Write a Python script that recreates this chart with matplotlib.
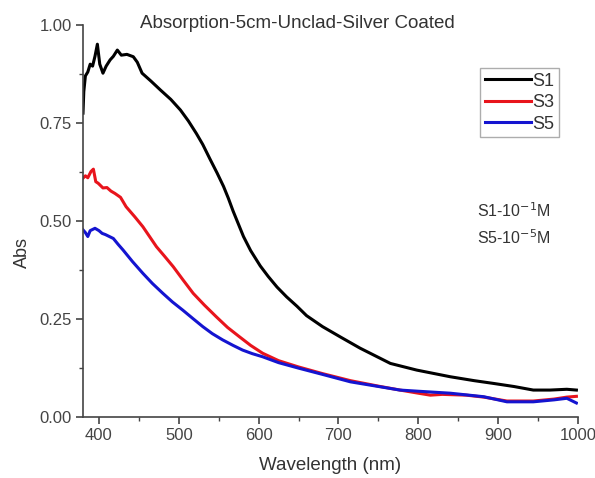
import matplotlib
matplotlib.use("Agg")
import matplotlib.pyplot as plt
from matplotlib.ticker import MultipleLocator

plt.rcParams['font.family'] = ['Liberation Sans', 'DejaVu Sans']

wl_s1 = [380, 381, 383, 386, 389, 392, 395, 398, 401, 405, 409, 414, 418, 423, 428, 435,
         443, 448, 454, 465, 477, 490, 502, 512, 522, 530, 539, 548, 556, 562, 568, 575,
         581, 590, 602, 612, 623, 635, 648, 660, 680, 702, 727, 765, 798, 840, 870, 894,
         920, 944, 965, 986, 998]
abs_s1 = [0.775, 0.83, 0.87, 0.88, 0.90, 0.895, 0.92, 0.951, 0.90, 0.877, 0.895, 0.911, 0.92,
          0.936, 0.923, 0.925, 0.919, 0.905, 0.877, 0.857, 0.834, 0.81, 0.783, 0.755, 0.723,
          0.695, 0.658, 0.622, 0.588, 0.558, 0.525, 0.49, 0.46, 0.424, 0.385, 0.358, 0.331,
          0.306, 0.282, 0.258, 0.23, 0.204, 0.175, 0.136, 0.119, 0.102, 0.092, 0.085, 0.077,
          0.068, 0.068, 0.070, 0.068]

wl_s3 = [380, 383, 386, 390, 393, 396, 399, 405, 410, 415, 420, 427, 434, 445, 455, 464,
         472, 482, 493, 505, 518, 532, 547, 561, 576, 590, 605, 625, 650, 680, 715, 750,
         777, 800, 815, 830, 860, 882, 911, 944, 970, 986, 998]
abs_s3 = [0.609, 0.615, 0.61, 0.626, 0.632, 0.60, 0.596, 0.584, 0.585, 0.576, 0.570, 0.56,
          0.536, 0.51, 0.485, 0.458, 0.434, 0.41, 0.383, 0.35, 0.315, 0.285, 0.255, 0.228,
          0.204, 0.182, 0.162, 0.143, 0.127, 0.11, 0.092, 0.078, 0.068, 0.060, 0.055, 0.057,
          0.055, 0.05, 0.04, 0.04, 0.045, 0.05, 0.052]

wl_s5 = [380, 383, 386, 389, 392, 395, 400, 404, 408, 413, 418, 424, 430, 442, 455, 467,
         480, 492, 505, 518, 530, 542, 555, 568, 580, 592, 605, 625, 650, 680, 715, 777,
         800, 840, 882, 911, 944, 970, 986, 998]
abs_s5 = [0.477, 0.47, 0.46, 0.475, 0.478, 0.481, 0.475, 0.468, 0.465, 0.46, 0.455, 0.44,
          0.426, 0.396, 0.366, 0.34, 0.315, 0.293, 0.272, 0.25, 0.23, 0.212, 0.196, 0.182,
          0.170, 0.161, 0.153, 0.138, 0.124, 0.108, 0.089, 0.068, 0.065, 0.060, 0.051,
          0.038, 0.038, 0.043, 0.047, 0.035]

fig = plt.figure(figsize=(5.95, 4.78), dpi=100)
ax = fig.add_axes([83/595, 1 - 416.7/478, (578 - 83)/595, (416.7 - 25)/478])

ax.plot(wl_s1, abs_s1, color='black', lw=2.2, label='S1')
ax.plot(wl_s3, abs_s3, color='#e8141c', lw=2.2, label='S3')
ax.plot(wl_s5, abs_s5, color='#1414d0', lw=2.2, label='S5')

ax.set_xlim(380, 1000)
ax.set_ylim(0, 1.0)
ax.xaxis.set_major_locator(MultipleLocator(100))
ax.xaxis.set_minor_locator(MultipleLocator(50))
ax.yaxis.set_major_locator(MultipleLocator(0.25))
ax.yaxis.set_minor_locator(MultipleLocator(0.125))
ax.yaxis.set_major_formatter(plt.FormatStrFormatter('%.2f'))

for s in ['top', 'right']:
    ax.spines[s].set_visible(False)
for s in ['left', 'bottom']:
    ax.spines[s].set_color('#444444')
    ax.spines[s].set_linewidth(1.2)
ax.tick_params(which='major', direction='out', length=5, width=1.2, color='#444444',
               labelsize=12, labelcolor='#444444', pad=3)
ax.tick_params(which='minor', direction='out', length=3, width=1.0, color='#444444')

fig.text(297/595, 1 - 23/478, 'Absorption-5cm-Unclad-Silver Coated', ha='center',
         va='center', fontsize=13.5, color='#333333')
fig.text(330/595, 1 - 466/478, 'Wavelength (nm)', ha='center', va='center',
         fontsize=13.5, color='#333333')
fig.text(22/595, 1 - 252/478, 'Abs', ha='center', va='center', rotation=90,
         fontsize=13, color='#333333')

fig.text(477/595, 1 - 211/478, 'S1-10$^{-1}$M', ha='left', va='center', fontsize=11.5,
         color='#333333')
fig.text(477/595, 1 - 238/478, 'S5-10$^{-5}$M', ha='left', va='center', fontsize=11.5,
         color='#333333')

leg = ax.legend(loc='upper left', bbox_to_anchor=(480/595, 1 - 68/478),
                bbox_transform=fig.transFigure, fontsize=13, frameon=True, fancybox=False,
                handlelength=2.6, handletextpad=0.05, borderpad=0.25, labelspacing=0.25,
                borderaxespad=0)
leg.get_frame().set_edgecolor('#999999')
leg.get_frame().set_linewidth(1.0)
for t in leg.get_texts():
    t.set_color('#333333')

fig.savefig('out.png', dpi=100)
